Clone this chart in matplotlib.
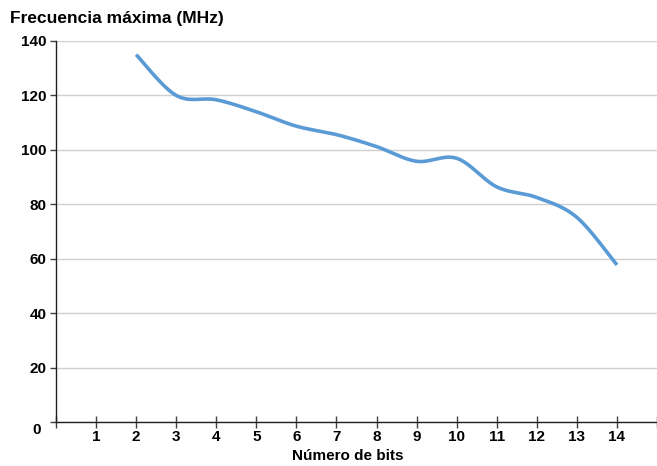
import numpy as np
import matplotlib
matplotlib.use("Agg")
import matplotlib.pyplot as plt

# data
bits = [2, 3, 4, 5, 6, 7, 8, 9, 10, 11, 12, 13, 14]
freq = [135.0, 120.0, 118.4, 114.0, 108.7, 105.6, 101.2, 95.8, 96.9, 86.4, 82.5, 75.2, 57.7]
x_labels = [str(i) for i in range(1, 15)]
y_ticks = [0, 20, 40, 60, 80, 100, 120, 140]

plt.rcParams['font.family'] = ['Liberation Sans', 'DejaVu Sans']


def smooth(xs, ys, n=30):
    # Excel style smoothing (cubic bezier, tension 1/6)
    p = np.column_stack([xs, ys]).astype(float)
    pts = []
    for i in range(len(p) - 1):
        p0 = p[i - 1] if i > 0 else p[i]
        p1 = p[i]
        p2 = p[i + 1]
        p3 = p[i + 2] if i + 2 < len(p) else p[i + 1]
        c1 = p1 + (p2 - p0) / 6
        c2 = p2 - (p3 - p1) / 6
        t = np.linspace(0, 1, n)[:, None]
        seg = (1 - t) ** 3 * p1 + 3 * (1 - t) ** 2 * t * c1 + 3 * (1 - t) * t ** 2 * c2 + t ** 3 * p2
        pts.append(seg if i == 0 else seg[1:])
    pts = np.vstack(pts)
    return pts[:, 0], pts[:, 1]


fig = plt.figure(figsize=(6.57, 4.66), dpi=100)
ax = fig.add_axes([56 / 657, 44 / 466, (657 - 56) / 657, (422 - 41) / 466])

sx, sy = smooth(bits, freq)
ax.plot(sx, sy, color='#5b9bd5', lw=2.6, solid_capstyle='butt', zorder=3)

ax.set_xlim(0, 14.9)
ax.set_ylim(0, 140)

ax.set_yticks(y_ticks)
ax.set_yticklabels([''] + [str(v) for v in y_ticks[1:]])
ax.yaxis.grid(True, color='#d0d0d0', lw=1)
ax.set_axisbelow(True)
ax.tick_params(axis='y', length=4, width=1, color='#404040', pad=3, labelsize=11)
for lab in ax.get_yticklabels():
    lab.set_fontweight('bold')
ax.annotate('0', xy=(0, 0), xytext=(-11, -6), textcoords='offset points',
            ha='right', va='center', fontsize=11, fontweight='bold')

ax.set_xticks(range(0, 16))
ax.set_xticklabels([''] + x_labels + [''])
ax.tick_params(axis='x', direction='inout', length=8, width=1, color='#404040', pad=2, labelsize=11)
for lab in ax.get_xticklabels():
    lab.set_fontweight('bold')

for s in ['top', 'right']:
    ax.spines[s].set_visible(False)
for s in ['left', 'bottom']:
    ax.spines[s].set_color('#202020')
    ax.spines[s].set_linewidth(1)

fig.text(10 / 657, 1 - 18 / 466, 'Frecuencia máxima (MHz)', fontsize=12.5, fontweight='bold', va='center', ha='left')
fig.text(348 / 657, 1 - 456 / 466, 'Número de bits', fontsize=11, fontweight='bold', va='center', ha='center')

fig.savefig('out.png', dpi=100)
